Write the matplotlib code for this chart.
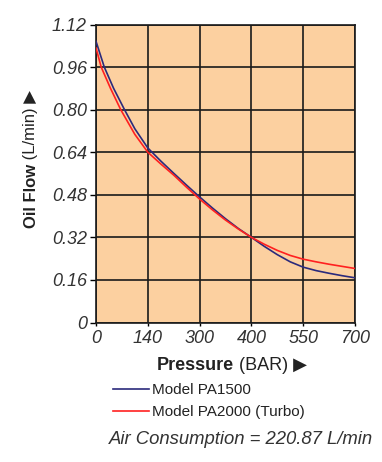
import matplotlib
matplotlib.use('Agg')
import matplotlib.pyplot as plt

plt.rcParams['font.family'] = ['Liberation Sans', 'DejaVu Sans']

# pressure ticks are evenly spaced on the chart, so curves use grid positions
pressure_labels = ['0', '140', '300', '400', '550', '700']
flow_ticks = [0, 0.16, 0.32, 0.48, 0.64, 0.80, 0.96, 1.12]
flow_labels = ['0', '0.16', '0.32', '0.48', '0.64', '0.80', '0.96', '1.12']

pa1500_x = [0, 0.16, 0.34, 0.55, 0.75, 1.0, 1.25, 1.5, 1.75, 2.0, 2.25, 2.5, 2.75,
            3.0, 3.25, 3.5, 3.75, 4.0, 4.25, 4.5, 4.75, 5.0]
pa1500_y = [1.057, 0.96, 0.88, 0.80, 0.728, 0.656, 0.607, 0.561, 0.516, 0.472, 0.430, 0.390, 0.353,
            0.320, 0.286, 0.255, 0.228, 0.208, 0.195, 0.185, 0.176, 0.168]

pa2000_x = [0, 0.10, 0.28, 0.477, 0.75, 1.0, 1.25, 1.5, 1.75, 2.0, 2.25, 2.5, 2.75,
            3.0, 3.25, 3.5, 3.75, 4.0, 4.25, 4.5, 4.75, 5.0]
pa2000_y = [1.032, 0.96, 0.88, 0.80, 0.707, 0.640, 0.596, 0.554, 0.508, 0.464, 0.423, 0.385, 0.351,
            0.320, 0.294, 0.271, 0.252, 0.238, 0.228, 0.219, 0.211, 0.203]

W, H = 382, 462
fig = plt.figure(figsize=(W / 100, H / 100), dpi=100)
ax = fig.add_axes([96 / W, 1 - 322.5 / H, 259 / W, 298 / H])
ax.set_facecolor('#fcd0a0')

ax.plot(pa1500_x, pa1500_y, color='#2b2a7c', lw=1.2, label='Model PA1500', zorder=3)
ax.plot(pa2000_x, pa2000_y, color='#ff2020', lw=1.2, label='Model PA2000 (Turbo)', zorder=3)

ax.set_xlim(0, 5)
ax.set_ylim(0, 1.12)
ax.set_xticks(range(len(pressure_labels)))
ax.set_xticklabels(pressure_labels)
ax.set_yticks(flow_ticks)
ax.set_yticklabels(flow_labels)
ax.grid(True, color='#1a1a1a', lw=1.2)
for s in ax.spines.values():
    s.set_color('#1a1a1a')
    s.set_linewidth(1.2)
ax.tick_params(axis='y', length=4.5, width=1.0, pad=2, labelsize=13, labelcolor='#333333')
ax.tick_params(axis='x', length=2.5, width=1.0, pad=3, labelsize=13, labelcolor='#333333')
for t in ax.get_xticklabels() + ax.get_yticklabels():
    t.set_fontstyle('italic')


def two_part_label(xc, yc, bold, rest, vertical=False, size=13):
    # bold word followed by normal text, centred on (xc, yc) in pixels
    r = fig.canvas.get_renderer()
    rot = 90 if vertical else 0
    t1 = fig.text(0, 0, bold, weight='bold', fontsize=size, color='#222222', rotation=rot)
    t2 = fig.text(0, 0, rest, fontsize=size, color='#222222', rotation=rot)
    e1, e2 = t1.get_window_extent(r), t2.get_window_extent(r)
    if vertical:
        l1, l2 = e1.height, e2.height
        start = (H - yc) - (l1 + l2) / 2
        for t, pos in ((t1, start), (t2, start + l1)):
            t.set_position((xc / W, pos / H))
            t.set_ha('center')
            t.set_va('bottom')
    else:
        l1, l2 = e1.width, e2.width
        start = xc - (l1 + l2) / 2
        for t, pos in ((t1, start), (t2, start + l1)):
            t.set_position((pos / W, 1 - yc / H))
            t.set_ha('left')
            t.set_va('center_baseline')


two_part_label(232, 364, 'Pressure', ' (BAR) ▶')
two_part_label(31, 159, 'Oil Flow', ' (L/min) ▶', vertical=True, size=12)

leg = fig.legend(loc='upper left', bbox_to_anchor=(113 / W, 1 - 383 / H), frameon=False,
                 fontsize=11, handlelength=2.35, handletextpad=0.2, labelspacing=0.55,
                 borderpad=0, borderaxespad=0)
for t in leg.get_texts():
    t.set_color('#222222')

fig.text(373 / W, 1 - 440 / H, 'Air Consumption = 220.87 L/min', ha='right', va='center',
         fontsize=13.3, style='italic', color='#333333')

fig.savefig('out.png', dpi=100)
